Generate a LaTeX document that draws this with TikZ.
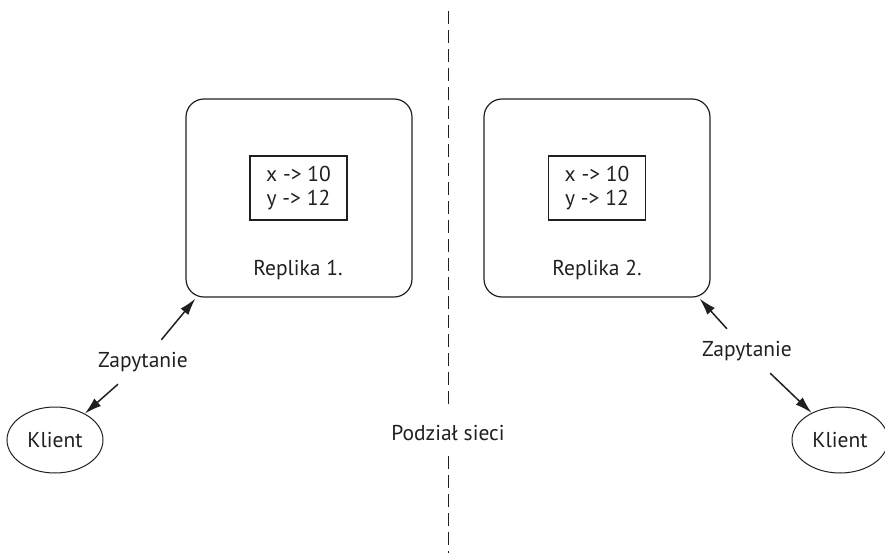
\documentclass[tikz,border=0pt]{standalone}
\usepackage{fontspec}
\setmainfont{PT Sans}
\usetikzlibrary{arrows.meta,calc,shapes.geometric}
\definecolor{ink}{HTML}{231F20}
\tikzset{
  every node/.style={text=ink, font=\fontsize{21.5}{24}\selectfont},
  replica/.style={draw=ink, line width=1.2pt, rounded corners=18pt, minimum width=226pt, minimum height=198pt},
  store/.style={draw=ink, line width=1.2pt, minimum width=97pt, minimum height=64pt, align=center, inner sep=0pt},
  client/.style={draw=ink, line width=1pt, ellipse, minimum width=96pt, minimum height=66pt, inner sep=0pt},
  lbl/.style={inner sep=0pt, minimum height=44pt},
  arr/.style={draw=ink, line width=1.5pt, -{Latex[length=17pt,width=10pt]}},
  divider/.style={draw=ink, line width=0.8pt, dash pattern=on 13pt off 6pt}
}
\begin{document}
\begin{tikzpicture}[x=1pt,y=-1pt]
\useasboundingbox (0,0) rectangle (885,554);
% replicas
\node[replica] (r1) at (299,198) {};
\node[store] (s1) at (298.5,188) {x -> 10\\y -> 12};
\node (t1) at (298,270) {Replika 1.};
\node[replica] (r2) at (597,198) {};
\node[store] (s2) at (597,188) {x -> 10\\y -> 12};
\node (t2) at (597,270) {Replika 2.};
% clients
\node[client] (k1) at (55,440) {Klient};
\node[client] (k2) at (840,440) {Klient};
% labels
\node[lbl] (z1) at (143,362) {Zapytanie};
\node[lbl] (z2) at (747,351) {Zapytanie};
\node[lbl, minimum height=46pt] (p) at (448,433) {Podział sieci};
% connector ends at replica corners
\coordinate (c1) at ($(r1.south west)+(10,1)$);
\coordinate (c2) at ($(r2.south east)+(-11,1)$);
\coordinate (dtop) at (448,11);
\coordinate (dbot) at (448,553);
% arrows
\draw[arr] (z1) -- (c1);
\draw[arr] (z1) -- (k1);
\draw[arr] (z2) -- (c2);
\draw[arr] (z2) -- (k2);
% network partition line
\draw[divider] (dtop) -- (p.north);
\draw[divider] (p.south) -- (dbot);
\end{tikzpicture}
\end{document}
